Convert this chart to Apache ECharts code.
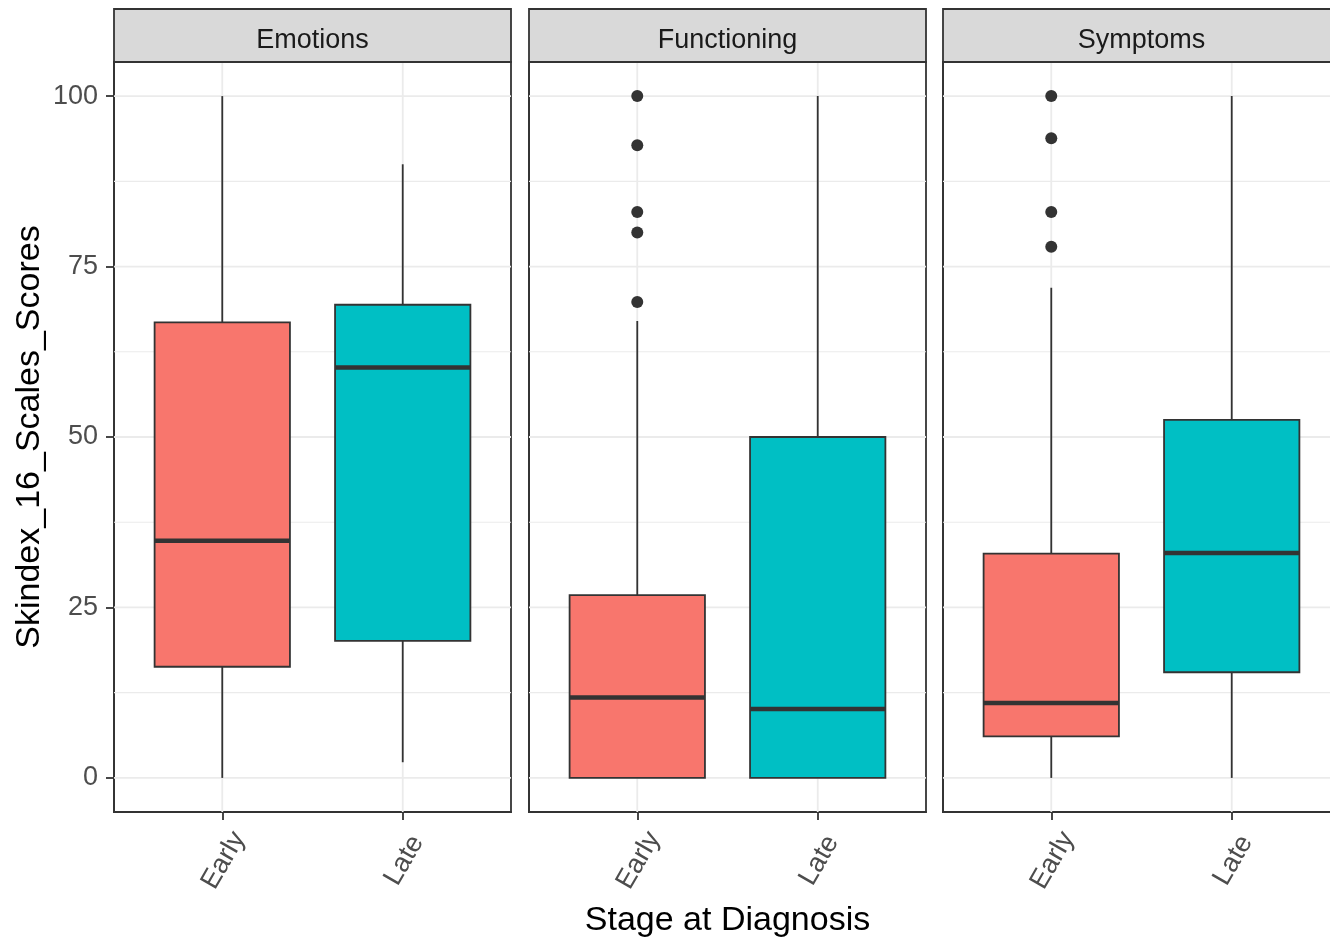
<!DOCTYPE html>
<html>
<head>
<meta charset="utf-8">
<script src="https://cdn.jsdelivr.net/npm/echarts@6/dist/echarts.min.js"></script>
<style>
  html, body { margin: 0; padding: 0; background: #ffffff; }
  #chart { width: 1330px; height: 939px; }
</style>
</head>
<body>
<div id="chart"></div>
<script>
// Facets and groups
const facets = ['Emotions', 'Functioning', 'Symptoms'];
const stages = ['Early', 'Late'];

// Y axis ticks
const yTicks = [0, 25, 50, 75, 100];
const yMinorTicks = [12.5, 37.5, 62.5, 87.5];

// Box summaries: [lower whisker, Q1, median, Q3, upper whisker]
const emotionsEarly = [0, 16.3, 34.8, 66.8, 100];
const emotionsLate = [2.3, 20.1, 60.2, 69.4, 90];
const functioningEarly = [0, 0, 11.8, 26.8, 67];
const functioningLate = [0, 0, 10.1, 50, 100];
const symptomsEarly = [0, 6.1, 11.0, 32.9, 71.9];
const symptomsLate = [0, 15.5, 33.0, 52.5, 100];

// Outlying scores (all in the Early group)
const emotionsOutliers = [];
const functioningOutliers = [100, 92.8, 83.0, 80.0, 69.8];
const symptomsOutliers = [100, 93.8, 83.0, 77.9];

const boxesByFacet = [
  [emotionsEarly, emotionsLate],
  [functioningEarly, functioningLate],
  [symptomsEarly, symptomsLate]
];
const outliersByFacet = [emotionsOutliers, functioningOutliers, symptomsOutliers];

const fillColors = ['#F8766D', '#00BFC4'];
const ink = '#333333';
const font = 'Liberation Sans, Arial, sans-serif';

// Panel geometry
const panelLeft = [114, 529, 943];
const panelWidth = 397;
const panelTop = 62;
const panelHeight = 750;
const stripTop = 9;
const boxWidth = 0.75;

function renderGridLine(params, api) {
  const cs = params.coordSys;
  const kind = api.value(1);
  if (kind === 2) {
    const x = api.coord([api.value(0), 0])[0];
    return { type: 'line', silent: true,
      shape: { x1: x, y1: cs.y, x2: x, y2: cs.y + cs.height },
      style: { stroke: '#ebebeb', lineWidth: 1.8 } };
  }
  const y = api.coord([1, api.value(0)])[1];
  return { type: 'line', silent: true,
    shape: { x1: cs.x, y1: y, x2: cs.x + cs.width, y2: y },
    style: { stroke: '#ebebeb', lineWidth: kind === 0 ? 1.8 : 1.2 } };
}

function renderBox(params, api) {
  const x = api.value(0);
  const half = api.size([boxWidth, 0])[0] / 2;
  const cx = api.coord([x, 0])[0];
  const yLo = api.coord([x, api.value(1)])[1];
  const yQ1 = api.coord([x, api.value(2)])[1];
  const yMed = api.coord([x, api.value(3)])[1];
  const yQ3 = api.coord([x, api.value(4)])[1];
  const yHi = api.coord([x, api.value(5)])[1];
  const whisker = { stroke: ink, lineWidth: 1.8 };
  return {
    type: 'group',
    children: [
      { type: 'line', shape: { x1: cx, y1: yHi, x2: cx, y2: yQ3 }, style: whisker },
      { type: 'line', shape: { x1: cx, y1: yQ1, x2: cx, y2: yLo }, style: whisker },
      { type: 'rect', shape: { x: cx - half, y: yQ3, width: 2 * half, height: yQ1 - yQ3 },
        style: { fill: fillColors[api.value(6)], stroke: ink, lineWidth: 1.8 } },
      { type: 'line', shape: { x1: cx - half, y1: yMed, x2: cx + half, y2: yMed },
        style: { stroke: ink, lineWidth: 4.5 } }
    ]
  };
}

const grids = [], xAxes = [], yAxes = [], series = [], graphics = [];

facets.forEach((name, i) => {
  grids.push({
    left: panelLeft[i], top: panelTop, width: panelWidth, height: panelHeight,
    outerBoundsMode: 'none', containLabel: false,
    show: true, backgroundColor: '#ffffff', borderColor: ink, borderWidth: 1.8
  });

  xAxes.push({
    type: 'value', gridIndex: i, min: 0.4, max: 2.6,
    axisLine: { show: true, onZero: false, lineStyle: { color: ink, width: 1.8 } },
    splitLine: { show: false },
    axisTick: { show: true, inside: false, customValues: [1, 2], length: 8,
      lineStyle: { color: ink, width: 1.8 } },
    axisLabel: {
      customValues: [1, 2],
      formatter: v => stages[Math.round(v) - 1],
      rotate: 60, align: 'center', verticalAlign: 'middle', margin: 51,
      padding: [10, 0, 0, 6],
      fontSize: 27, color: '#4d4d4d', fontFamily: font
    },
    name: i === 1 ? 'Stage at Diagnosis' : '',
    nameLocation: 'middle', nameGap: 92,
    nameTextStyle: { fontSize: 34, color: '#000000', fontFamily: font }
  });

  yAxes.push({
    type: 'value', gridIndex: i, min: -5, max: 105,
    axisLine: { show: true, onZero: false, lineStyle: { color: ink, width: 1.8 } },
    splitLine: { show: false },
    axisTick: { show: i === 0, inside: false, customValues: yTicks, length: 8,
      lineStyle: { color: ink, width: 1.8 } },
    axisLabel: {
      show: i === 0, customValues: yTicks, margin: 16,
      fontSize: 27, color: '#4d4d4d', fontFamily: font
    },
    name: i === 0 ? 'Skindex_16_Scales_Scores' : '',
    nameLocation: 'middle', nameGap: 67,
    nameTextStyle: { fontSize: 34, color: '#000000', fontFamily: font }
  });

  const lines = [];
  yTicks.forEach(v => lines.push([v, 0]));
  yMinorTicks.forEach(v => lines.push([v, 1]));
  stages.forEach((s, k) => lines.push([k + 1, 2]));
  series.push({
    type: 'custom', xAxisIndex: i, yAxisIndex: i, z: 1, silent: true,
    renderItem: renderGridLine, data: lines
  });

  series.push({
    type: 'custom', xAxisIndex: i, yAxisIndex: i, z: 3,
    renderItem: renderBox,
    data: boxesByFacet[i].map((b, k) => [k + 1, b[0], b[1], b[2], b[3], b[4], k])
  });

  series.push({
    type: 'scatter', xAxisIndex: i, yAxisIndex: i, z: 4,
    symbol: 'circle', symbolSize: 12,
    itemStyle: { color: ink, opacity: 1 },
    data: outliersByFacet[i].map(v => [1, v])
  });

  // facet strip
  graphics.push({
    type: 'rect', z: 10,
    shape: { x: panelLeft[i], y: stripTop, width: panelWidth, height: panelTop - stripTop },
    style: { fill: '#d9d9d9', stroke: ink, lineWidth: 1.8 }
  });
  graphics.push({
    type: 'text', z: 11,
    x: panelLeft[i] + panelWidth / 2, y: (stripTop + panelTop) / 2 + 5,
    style: { text: name, align: 'center', verticalAlign: 'middle',
      font: '27px ' + font, fill: '#1a1a1a' }
  });
});

const chart = echarts.init(document.getElementById('chart'), null, { renderer: 'canvas' });
chart.setOption({
  animation: false,
  backgroundColor: '#ffffff',
  grid: grids,
  xAxis: xAxes,
  yAxis: yAxes,
  series: series,
  graphic: graphics
});
</script>
</body>
</html>
